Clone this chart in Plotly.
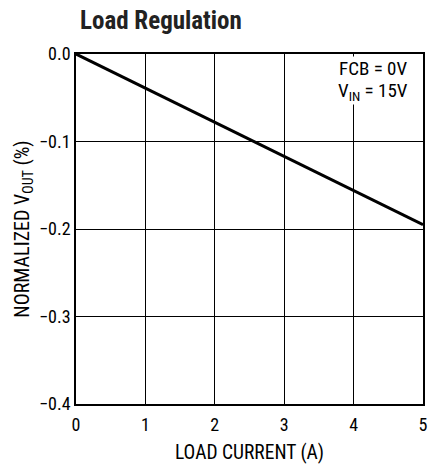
import plotly.graph_objects as go

load_current = [0, 5]
normalized_vout = [0.0, -0.195]
x_ticks = [0, 1, 2, 3, 4, 5]
y_ticks = [0.0, -0.1, -0.2, -0.3, -0.4]
y_tick_labels = ["0.0", "\u22120.1", "\u22120.2", "\u22120.3", "\u22120.4"]

FONT = "Liberation Sans Narrow, Arial Narrow, Roboto Condensed, Liberation Sans, sans-serif"

fig = go.Figure()
fig.add_trace(go.Scatter(x=load_current, y=normalized_vout, mode="lines",
                         line=dict(color="black", width=3), showlegend=False,
                         hoverinfo="skip"))

fig.update_layout(
    width=432, height=470,
    margin=dict(l=76, r=4, t=54, b=66),
    paper_bgcolor="white", plot_bgcolor="white",
    font=dict(family=FONT, color="black", size=18),
    title=dict(text="<b>Load Regulation</b>", x=80/432, xanchor="left",
               y=1 - 20/470, yanchor="middle",
               font=dict(family=FONT, size=25, color="#222")),
    xaxis=dict(range=[0, 5], tickvals=x_ticks, ticks="", showgrid=True,
               gridcolor="black", gridwidth=1, showline=True, linecolor="black",
               linewidth=1.5, mirror=True, zeroline=False, ticklabelstandoff=4,
               title=dict(text="LOAD CURRENT (A)", standoff=11, font=dict(size=19.5)),
               tickfont=dict(size=18)),
    yaxis=dict(range=[-0.4, 0.0], tickvals=y_ticks, ticktext=y_tick_labels, ticks="",
               showgrid=True, gridcolor="black", gridwidth=1, showline=True,
               linecolor="black", linewidth=1.5, mirror=True, zeroline=False,
               title=dict(text="NORMALIZED V<sub>OUT</sub> (%)", standoff=4, font=dict(size=20)),
               tickfont=dict(size=18)),
)

fig.add_annotation(xref="paper", yref="paper", x=(413 - 76) / 352, y=1 - (68 - 54) / 350,
                   xanchor="right", yanchor="middle",
                   text="FCB = 0V", showarrow=False, font=dict(size=19, family=FONT),
                   bgcolor="white", borderpad=0)
fig.add_annotation(xref="paper", yref="paper", x=(414 - 76) / 352, y=1 - (92 - 54) / 350,
                   xanchor="right", yanchor="middle",
                   text="V<sub>IN</sub> = 15V", showarrow=False, font=dict(size=19, family=FONT),
                   bgcolor="white", borderpad=0)

fig.write_html("out.html", config={"displayModeBar": False},
               post_script="document.body.style.margin='0';")
